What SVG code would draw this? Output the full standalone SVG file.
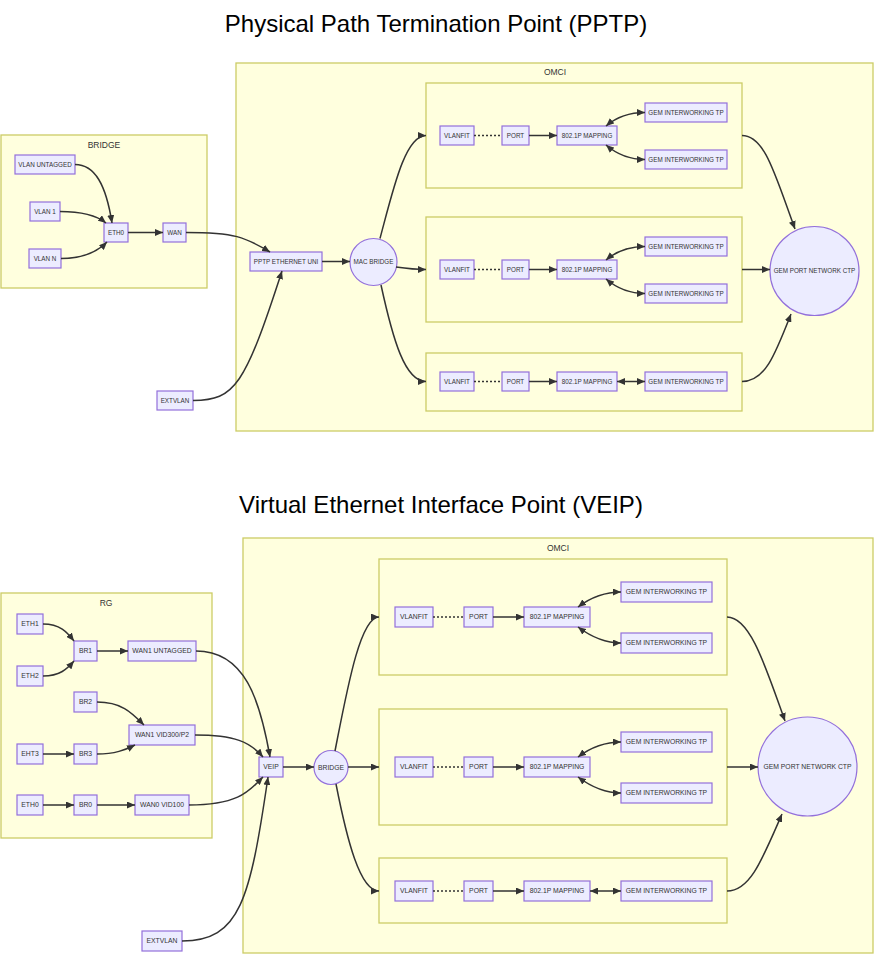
<svg xmlns="http://www.w3.org/2000/svg" width="875" height="955" viewBox="0 0 875 955">
<style>
.title{font-family:"Liberation Sans",Arial,sans-serif;font-size:24px;fill:#000;text-anchor:middle}
.cl rect{fill:#ffffde;stroke:#cccc66;stroke-width:1.3}
.cl text{font-family:"Liberation Sans",Arial,sans-serif;font-size:8.5px;fill:#333;text-anchor:middle}
.n rect,.n circle{fill:#ececff;stroke:#9370db;stroke-width:1.2}
.n text{font-family:"Liberation Sans",Arial,sans-serif;font-size:6.3px;fill:#333;text-anchor:middle}
.b .n text{font-size:6.8px}
.e path{fill:none;stroke:#333;stroke-width:1.5}
.e .a{marker-end:url(#ah)}
.e .d{marker-start:url(#ah);marker-end:url(#ah)}
.e .dot{stroke-dasharray:2 2}
</style>
<defs>
<marker id="ah" viewBox="0 0 8 7" refX="8" refY="3.5" markerWidth="8" markerHeight="7" markerUnits="userSpaceOnUse" orient="auto-start-reverse">
<path d="M0,0 L8,3.5 L0,7 z" fill="#333"/>
</marker>
</defs>
<rect width="875" height="955" fill="#fff"/>

<text class="title" x="436" y="32">Physical Path Termination Point (PPTP)</text>
<text class="title" x="441" y="513">Virtual Ethernet Interface Point (VEIP)</text>

<!-- TOP SECTION -->
<g class="top">
<g id="c-bridge" class="cl"><rect x="1" y="135" width="206" height="153"/><text x="104" y="148">BRIDGE</text></g>
<g id="c-omci1" class="cl"><rect x="236" y="63" width="637" height="368"/><text x="555" y="75">OMCI</text></g>
<g id="c-g1" class="cl"><rect x="426" y="83" width="316" height="105"/></g>
<g id="c-g2" class="cl"><rect x="426" y="217" width="316" height="105"/></g>
<g id="c-g3" class="cl"><rect x="426" y="353" width="316" height="58"/></g>

<g id="t-vlanuntagged" class="n"><rect x="15" y="155" width="60" height="19"/><text x="45" y="166.7">VLAN UNTAGGED</text></g>
<g id="t-vlan1" class="n"><rect x="30" y="202" width="30" height="19"/><text x="45" y="213.7">VLAN 1</text></g>
<g id="t-vlann" class="n"><rect x="29" y="249" width="32" height="19"/><text x="45" y="260.7">VLAN N</text></g>
<g id="t-eth0" class="n"><rect x="104" y="223" width="24" height="19"/><text x="116" y="234.7">ETH0</text></g>
<g id="t-wan" class="n"><rect x="163" y="223" width="23" height="19"/><text x="174.5" y="234.7">WAN</text></g>
<g id="t-pptp" class="n"><rect x="250" y="252" width="72" height="19"/><text x="286" y="263.7">PPTP ETHERNET UNI</text></g>
<g id="t-extvlan" class="n"><rect x="157" y="391" width="36" height="19"/><text x="175" y="402.7">EXTVLAN</text></g>
<g id="t-macbridge" class="n"><circle cx="373.5" cy="262" r="23.5"/><text x="373.5" y="264.2">MAC BRIDGE</text></g>

<g id="t-vlanfit1" class="n"><rect x="440" y="126" width="34" height="19"/><text x="457" y="137.7">VLANFIT</text></g>
<g id="t-port1" class="n"><rect x="502" y="126" width="27" height="19"/><text x="515.5" y="137.7">PORT</text></g>
<g id="t-map1" class="n"><rect x="557" y="126" width="60" height="19"/><text x="587" y="137.7">802.1P MAPPING</text></g>
<g id="t-gem1a" class="n"><rect x="645" y="103" width="82" height="19"/><text x="686" y="114.7">GEM INTERWORKING TP</text></g>
<g id="t-gem1b" class="n"><rect x="645" y="150" width="82" height="19"/><text x="686" y="161.7">GEM INTERWORKING TP</text></g>

<g id="t-vlanfit2" class="n"><rect x="440" y="260" width="34" height="19"/><text x="457" y="271.7">VLANFIT</text></g>
<g id="t-port2" class="n"><rect x="502" y="260" width="27" height="19"/><text x="515.5" y="271.7">PORT</text></g>
<g id="t-map2" class="n"><rect x="557" y="260" width="60" height="19"/><text x="587" y="271.7">802.1P MAPPING</text></g>
<g id="t-gem2a" class="n"><rect x="645" y="237" width="82" height="19"/><text x="686" y="248.7">GEM INTERWORKING TP</text></g>
<g id="t-gem2b" class="n"><rect x="645" y="284" width="82" height="19"/><text x="686" y="295.7">GEM INTERWORKING TP</text></g>

<g id="t-vlanfit3" class="n"><rect x="440" y="372" width="34" height="19"/><text x="457" y="383.7">VLANFIT</text></g>
<g id="t-port3" class="n"><rect x="502" y="372" width="27" height="19"/><text x="515.5" y="383.7">PORT</text></g>
<g id="t-map3" class="n"><rect x="557" y="372" width="60" height="19"/><text x="587" y="383.7">802.1P MAPPING</text></g>
<g id="t-gem3" class="n"><rect x="645" y="372" width="82" height="19"/><text x="686" y="383.7">GEM INTERWORKING TP</text></g>

<g id="t-gemctp" class="n"><circle cx="814.5" cy="271" r="44.5"/><text x="814.5" y="273.2">GEM PORT NETWORK CTP</text></g>

<g id="t-edges" class="e">
<path class="a" d="M75,164.5 C95,164.5 106,185 112,223"/>
<path class="a" d="M60,211.5 C82,211.5 96,215 106,223"/>
<path class="a" d="M61,258.5 C83,258.5 97,252 107,242"/>
<path class="a" d="M128,232.5 L163,232.5"/>
<path class="a" d="M186,232.5 C235,232.5 245,237 270,252"/>
<path class="a" d="M193,400.5 C235,400.5 245,385 282,271"/>
<path class="a" d="M322,261.5 L350,261.5"/>
<path class="a" d="M380,238.5 C393,190 405,135.5 426,135.5"/>
<path class="a" d="M396,267 C410,269 415,269.5 426,269.5"/>
<path class="a" d="M381,285 C393,340 405,381.5 426,381.5"/>

<path class="dot" d="M474,135.5 L502,135.5"/>
<path class="a" d="M529,135.5 L557,135.5"/>
<path class="d" d="M606,126 C616,117.5 630,112.5 645,112.5"/>
<path class="d" d="M606,145 C616,153.5 630,159.5 645,159.5"/>

<path class="dot" d="M474,269.5 L502,269.5"/>
<path class="a" d="M529,269.5 L557,269.5"/>
<path class="d" d="M606,260 C616,251.5 630,246.5 645,246.5"/>
<path class="d" d="M606,279 C616,287.5 630,293.5 645,293.5"/>

<path class="dot" d="M474,381.5 L502,381.5"/>
<path class="a" d="M529,381.5 L557,381.5"/>
<path class="d" d="M617,381.5 L645,381.5"/>

<path class="a" d="M742,135.5 C765,135.5 775,175 795,229"/>
<path class="a" d="M742,269.5 L770,269.5"/>
<path class="a" d="M742,381.5 C765,381.5 775,355 791,314"/>
</g>
</g>

<!-- BOTTOM SECTION -->
<g class="b">
<g id="c-rg" class="cl"><rect x="1" y="593" width="211" height="245"/><text x="106" y="606">RG</text></g>
<g id="c-omci2" class="cl"><rect x="243" y="538" width="630" height="415"/><text x="558" y="551">OMCI</text></g>
<g id="c-h1" class="cl"><rect x="379" y="559" width="348" height="116"/></g>
<g id="c-h2" class="cl"><rect x="379" y="709" width="348" height="116"/></g>
<g id="c-h3" class="cl"><rect x="379" y="858" width="348" height="65"/></g>

<g id="b-eth1" class="n"><rect x="17" y="614" width="26" height="20"/><text x="30" y="626.4">ETH1</text></g>
<g id="b-eth2" class="n"><rect x="17" y="666" width="26" height="20"/><text x="30" y="678.4">ETH2</text></g>
<g id="b-br1" class="n"><rect x="74" y="641" width="23" height="20"/><text x="85.5" y="653.4">BR1</text></g>
<g id="b-wan1u" class="n"><rect x="128" y="641" width="68" height="20"/><text x="162" y="653.4">WAN1 UNTAGGED</text></g>
<g id="b-br2" class="n"><rect x="74" y="692" width="23" height="20"/><text x="85.5" y="704.4">BR2</text></g>
<g id="b-wan1v" class="n"><rect x="129" y="725" width="66" height="20"/><text x="162" y="737.4">WAN1 VID300/P2</text></g>
<g id="b-eht3" class="n"><rect x="17" y="744" width="26" height="20"/><text x="30" y="756.4">EHT3</text></g>
<g id="b-br3" class="n"><rect x="74" y="744" width="23" height="20"/><text x="85.5" y="756.4">BR3</text></g>
<g id="b-eth0" class="n"><rect x="17" y="795" width="26" height="20"/><text x="30" y="807.4">ETH0</text></g>
<g id="b-br0" class="n"><rect x="74" y="795" width="23" height="20"/><text x="85.5" y="807.4">BR0</text></g>
<g id="b-wan0" class="n"><rect x="135" y="795" width="54" height="20"/><text x="162" y="807.4">WAN0 VID100</text></g>
<g id="b-veip" class="n"><rect x="259" y="757" width="24" height="20"/><text x="271" y="769.4">VEIP</text></g>
<g id="b-extvlan" class="n"><rect x="142" y="931" width="40" height="20"/><text x="162" y="943.4">EXTVLAN</text></g>
<g id="b-bridge" class="n"><circle cx="331" cy="767.5" r="17"/><text x="331" y="769.9">BRIDGE</text></g>

<g id="b-vlanfit1" class="n"><rect x="395" y="607" width="38" height="20"/><text x="414" y="619.4">VLANFIT</text></g>
<g id="b-port1" class="n"><rect x="464" y="607" width="29" height="20"/><text x="478.5" y="619.4">PORT</text></g>
<g id="b-map1" class="n"><rect x="524" y="607" width="66" height="20"/><text x="557" y="619.4">802.1P MAPPING</text></g>
<g id="b-gem1a" class="n"><rect x="621" y="582" width="91" height="20"/><text x="666.5" y="594.4">GEM INTERWORKING TP</text></g>
<g id="b-gem1b" class="n"><rect x="621" y="633" width="91" height="20"/><text x="666.5" y="645.4">GEM INTERWORKING TP</text></g>

<g id="b-vlanfit2" class="n"><rect x="395" y="757" width="38" height="20"/><text x="414" y="769.4">VLANFIT</text></g>
<g id="b-port2" class="n"><rect x="464" y="757" width="29" height="20"/><text x="478.5" y="769.4">PORT</text></g>
<g id="b-map2" class="n"><rect x="524" y="757" width="66" height="20"/><text x="557" y="769.4">802.1P MAPPING</text></g>
<g id="b-gem2a" class="n"><rect x="621" y="732" width="91" height="20"/><text x="666.5" y="744.4">GEM INTERWORKING TP</text></g>
<g id="b-gem2b" class="n"><rect x="621" y="783" width="91" height="20"/><text x="666.5" y="795.4">GEM INTERWORKING TP</text></g>

<g id="b-vlanfit3" class="n"><rect x="395" y="881" width="38" height="20"/><text x="414" y="893.4">VLANFIT</text></g>
<g id="b-port3" class="n"><rect x="464" y="881" width="29" height="20"/><text x="478.5" y="893.4">PORT</text></g>
<g id="b-map3" class="n"><rect x="524" y="881" width="66" height="20"/><text x="557" y="893.4">802.1P MAPPING</text></g>
<g id="b-gem3" class="n"><rect x="621" y="881" width="91" height="20"/><text x="666.5" y="893.4">GEM INTERWORKING TP</text></g>

<g id="b-gemctp" class="n"><circle cx="807.5" cy="766.5" r="49.5"/><text x="807.5" y="768.9">GEM PORT NETWORK CTP</text></g>

<g id="b-edges" class="e">
<path class="a" d="M43,624 C60,624 67,632 74,641"/>
<path class="a" d="M43,676 C60,676 67,669 74,661"/>
<path class="a" d="M97,651 L128,651"/>
<path class="a" d="M97,702 C122,702 132,713 144,725"/>
<path class="a" d="M43,754 L74,754"/>
<path class="a" d="M97,754 C115,754 125,750 135,745"/>
<path class="a" d="M43,805 L74,805"/>
<path class="a" d="M97,805 L135,805"/>
<path class="a" d="M196,651 C245,651 260,700 270,757"/>
<path class="a" d="M195,735 C235,735 250,742 263,757"/>
<path class="a" d="M189,805 C240,805 250,790 263,777"/>
<path class="a" d="M182,941 C240,941 250,900 268,777"/>
<path class="a" d="M283,767 L314,767"/>
<path class="a" d="M335,751 C347,690 360,617 379,617"/>
<path class="a" d="M348,767 L379,767"/>
<path class="a" d="M336,784 C347,840 360,891 379,891"/>

<path class="dot" d="M433,617 L464,617"/>
<path class="a" d="M493,617 L524,617"/>
<path class="d" d="M578,607 C590,598 605,592 621,592"/>
<path class="d" d="M578,627 C590,636 605,643 621,643"/>

<path class="dot" d="M433,767 L464,767"/>
<path class="a" d="M493,767 L524,767"/>
<path class="d" d="M578,757 C590,748 605,742 621,742"/>
<path class="d" d="M578,777 C590,786 605,793 621,793"/>

<path class="dot" d="M433,891 L464,891"/>
<path class="a" d="M493,891 L524,891"/>
<path class="d" d="M590,891 L621,891"/>

<path class="a" d="M727,617 C750,617 765,665 785,721"/>
<path class="a" d="M727,767 L758,767"/>
<path class="a" d="M727,891 C750,891 762,860 782,814"/>
</g>
</g>
</svg>
